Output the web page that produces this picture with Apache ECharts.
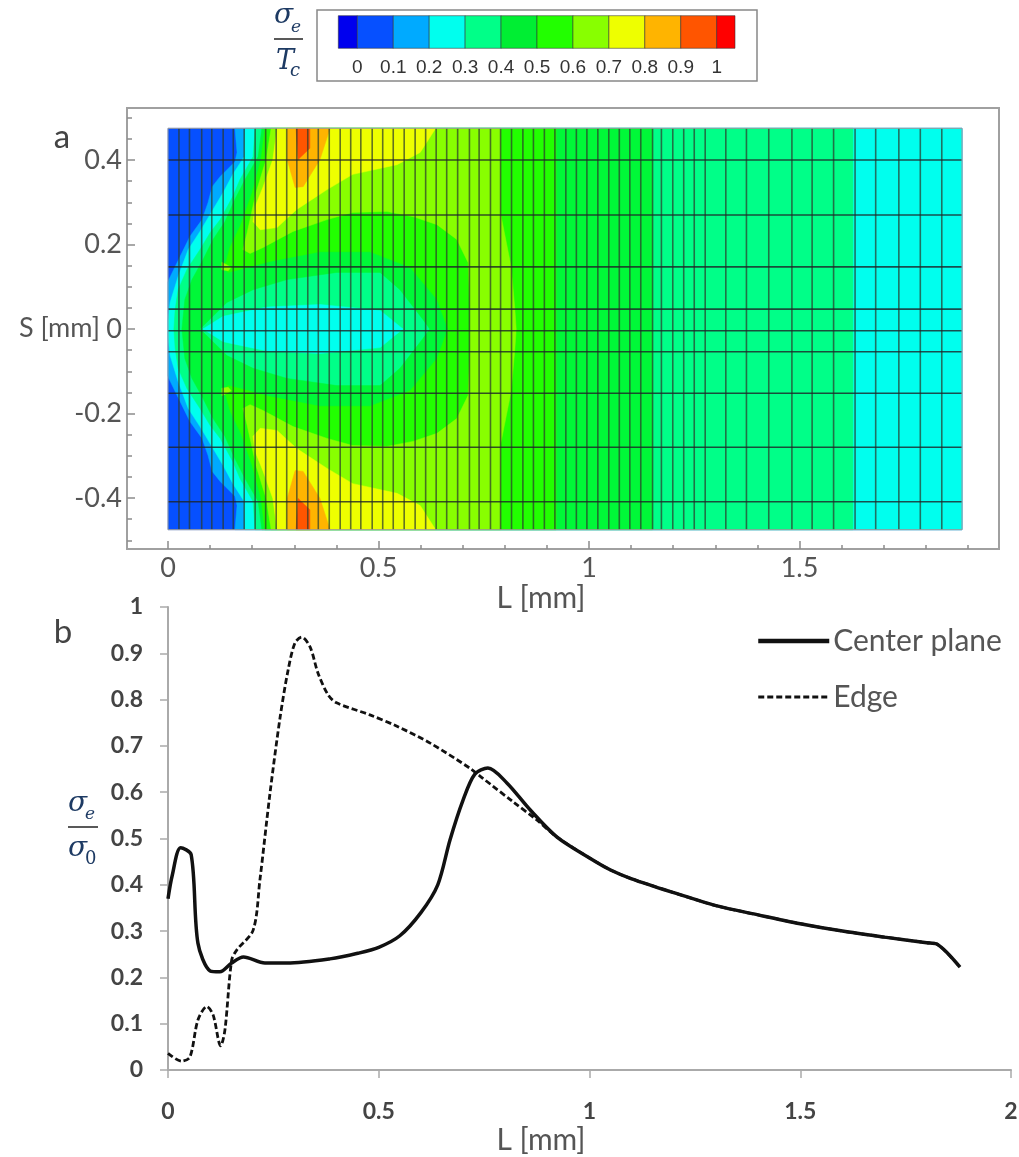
<!DOCTYPE html>
<html><head><meta charset="utf-8">
<style>html,body{margin:0;padding:0;background:#fff}#c{width:1019px;height:1157px}</style>
<script src="https://cdn.jsdelivr.net/npm/echarts@6/dist/echarts.min.js"></script>
</head><body><div id="c"></div>
<script>
// ---- colour scale ----
const scaleLo = [-0.053,0,0.1,0.2,0.3,0.4,0.5,0.6,0.7,0.8,0.9,1];
const scaleHi = [0,0.1,0.2,0.3,0.4,0.5,0.6,0.7,0.8,0.9,1,1.051];
const scaleColors = ['#0000ee','#0650ff','#00aaff','#00ffee','#00ff88','#00ee33','#22ff00','#88ff00','#eeff00','#ffb400','#ff5500','#ff0000'];
const scaleTicks = [0,0.1,0.2,0.3,0.4,0.5,0.6,0.7,0.8,0.9,1];

// ---- panel a: contour bands, upper half as [L, S] (the field is mirrored about S = 0) ----
const bandBase = [[0,0.475],[1.886,0.475],[1.886,0],[0,0]];
const bandB1 = [[.159,.475],[.164,.418],[.159,.396],[.124,.361],[.105,.337],[.095,.299],[.081,.259],[.052,.219],[.029,.172],[.002,.117],[0,.11],[0,0],[1.886,0],[1.886,.475]];
const bandB2 = [[.183,.475],[.181,.408],[.154,.366],[.131,.323],[.107,.283],[.076,.231],[.048,.188],[.024,.124],[.005,.063],[0,.02],[0,0],[1.886,0],[1.886,.475]];
const bandB3 = [[.207,.475],[.202,.408],[.171,.354],[.154,.314],[.124,.259],[.100,.228],[.076,.188],[.045,.141],[.024,.093],[.017,.046],[.014,0],[1.627,0],[1.627,.475]];
const bandCore = [[.083,0],[.131,.030],[.178,.040],[.235,.052],[.361,.058],[.504,.044],[.558,0]];
const bandB4 = [[.223,.475],[.214,.408],[.183,.354],[.159,.307],[.135,.254],[.107,.212],[.083,.164],[.057,.117],[.040,.070],[.033,0],[.076,0],[.140,.063],[.202,.093],[.283,.117],[.401,.134],[.504,.134],[.551,.093],[.606,.022],[.622,0],[1.151,0],[1.151,.475]];
const bandB5 = [[.230,.475],[.221,.401],[.200,.323],[.173,.247],[.147,.193],[.138,.160],[.128,.146],[.143,.134],[.171,.141],[.242,.160],[.361,.183],[.480,.183],[.575,.146],[.639,.070],[.665,0],[.922,0],[.922,.475]];
const bandB6 = [[.245,.475],[.233,.401],[.209,.323],[.188,.228],[.178,.188],[.195,.179],[.226,.193],[.297,.231],[.378,.259],[.439,.276],[.520,.278],[.582,.266],[.639,.247],[.686,.212],[.713,.157],[.717,.046],[.717,0],[.827,0],[.824,.046],[.815,.148],[.790,.273],[.790,.475]];
const bandB7 = [[.259,.475],[.249,.401],[.226,.337],[.207,.290],[.202,.254],[.219,.235],[.259,.240],[.306,.283],[.378,.330],[.439,.366],[.544,.389],[.599,.418],[.634,.472],[.634,.475]];
const bandB8 = [[.283,.475],[.283,.401],[.302,.335],[.321,.337],[.361,.401],[.385,.475]];
const bandB9 = [[.304,.475],[.309,.401],[.337,.428],[.337,.475]];
const bandSpeck = [[.128,.158],[.143,.150],[.150,.146],[.143,.138],[.128,.140]];
const bandList = [bandBase,bandB1,bandB2,bandB3,bandCore,bandB4,bandB5,bandB6,bandB7,bandB8,bandB9,bandSpeck];
const bandColors = ['#0650ff','#00aaff','#00ffee','#00ff88','#00ffee','#00f838','#22ff00','#88ff00','#eeff00','#ffb400','#ff5500','#99ff00'];

// ---- panel a: mesh lines ----
const meshL = [.026,.051,.080,.104,.131,.155,.181,.207,.232,.257,.282,.306,.332,.357,.383,.409,.434,.458,.485,.510,.535,.561,.587,.612,.637,.662,.688,.716,.739,.766,.790,.816,.843,.868,.894,.919,.945,.970,.995,1.021,1.047,1.072,1.097,1.123,1.151,1.172,1.199,1.225,1.250,1.276,1.325,1.374,1.427,1.482,1.530,1.581,1.632,1.681,1.736,1.787,1.838];
const meshS = [.400,.270,.147,.047,-.004,-.054,-.152,-.280,-.409];
const fieldLmax = 1.886, fieldS = 0.475;

// ---- panel a: ticks ----
const aXMajor = [0,0.5,1,1.5];
const aXMinor = [0,.1,.2,.3,.4,.5,.6,.7,.8,.9,1,1.1,1.2,1.3,1.4,1.5,1.6,1.7,1.8,1.9];
const aYMajor = [-0.4,-0.2,0,0.2,0.4];
const aYMinor = [-.5,-.45,-.4,-.35,-.3,-.25,-.2,-.15,-.1,-.05,0,.05,.1,.15,.2,.25,.3,.35,.4,.45,.5];

// ---- panel b: curves ----
const centerPlane = [[0,.37],[.01,.42],[.03,.48],[.055,.465],[.071,.274],[.10,.214],[.123,.212],[.151,.231],[.179,.244],[.23,.231],[.282,.231],[.384,.24],[.45,.252],[.5,.265],[.55,.29],[.6,.34],[.64,.40],[.669,.497],[.70,.583],[.728,.639],[.759,.652],[.804,.62],[.859,.562],[.923,.503],[1.0,.458],[1.05,.432],[1.1,.413],[1.2,.383],[1.3,.355],[1.4,.335],[1.5,.316],[1.6,.30],[1.7,.287],[1.8,.275],[1.824,.272],[1.879,.222]];
const edgeLine = [[0,.036],[.032,.019],[.052,.028],[.071,.108],[.092,.137],[.107,.119],[.125,.052],[.135,.086],[.151,.237],[.163,.259],[.202,.302],[.218,.41],[.242,.598],[.266,.762],[.285,.864],[.301,.922],[.317,.935],[.337,.914],[.356,.857],[.38,.81],[.40,.793],[.479,.767],[.542,.743],[.622,.706],[.716,.652],[.747,.63],[.819,.579],[.875,.54],[.923,.503],[1.0,.458],[1.05,.432],[1.1,.413],[1.2,.383],[1.3,.355],[1.4,.335],[1.5,.316],[1.6,.30],[1.7,.287],[1.8,.275],[1.824,.272],[1.879,.222]];

const sans = 'Lato';
const grey = '#555555';

function bandItem(params, api){
  const pts = bandList[params.dataIndex];
  const fill = bandColors[params.dataIndex];
  const up = pts.map(p=>api.coord(p));
  const down = pts.map(p=>api.coord([p[0],-p[1]]));
  return {type:'group',children:[
    {type:'polygon',shape:{points:up},style:{fill:fill,stroke:fill,lineWidth:0.5}},
    {type:'polygon',shape:{points:down},style:{fill:fill,stroke:fill,lineWidth:0.5}}
  ]};
}
function meshVertical(params, api){
  const x = meshL[params.dataIndex];
  const a = api.coord([x,fieldS]), b = api.coord([x,-fieldS]);
  return {type:'line',shape:{x1:a[0],y1:a[1],x2:b[0],y2:b[1]},style:{stroke:'rgba(45,60,45,0.72)',lineWidth:1.6}};
}
function meshHorizontal(params, api){
  const y = meshS[params.dataIndex];
  const a = api.coord([0,y]), b = api.coord([fieldLmax,y]);
  return {type:'line',shape:{x1:a[0],y1:a[1],x2:b[0],y2:b[1]},style:{stroke:'rgba(30,35,40,0.8)',lineWidth:1.6}};
}
function fieldFrame(params, api){
  const a = api.coord([0,fieldS]), b = api.coord([fieldLmax,-fieldS]);
  return {type:'rect',shape:{x:a[0],y:a[1],width:b[0]-a[0],height:b[1]-a[1]},style:{fill:'none',stroke:'#9a9a9a',lineWidth:1}};
}
function scaleItem(params, api){
  const i = params.dataIndex;
  const a = api.coord([scaleLo[i],1]), b = api.coord([scaleHi[i],0]);
  return {type:'rect',shape:{x:a[0],y:a[1],width:b[0]-a[0],height:b[1]-a[1]},style:{fill:scaleColors[i],stroke:'rgba(50,50,50,0.55)',lineWidth:1}};
}
function mathText(x,y,text,size,italic){
  return {type:'text',x:x,y:y,silent:true,style:{text:text,fill:'#1d3a63',font:(italic?'italic ':'')+size+'px "DejaVu Serif"',textAlign:'left',textVerticalAlign:'middle'}};
}

const chart = echarts.init(document.getElementById('c'),null,{renderer:'canvas'});
chart.setOption({
  animation:false,
  backgroundColor:'#ffffff',
  legend:{left:756,top:626,orient:'vertical',itemWidth:71,itemHeight:20,itemGap:26,padding:0,
    data:[{name:'Center plane',lineStyle:{width:4.5}},{name:'Edge',lineStyle:{width:3}}],selectedMode:false,
    itemStyle:{opacity:0},
    textStyle:{fontFamily:sans,fontSize:30,color:grey,padding:[0,0,0,-1]}},
  grid:[
    {left:127,top:108,width:872,height:441,show:true,borderColor:'#a0a0a0',borderWidth:2,containLabel:false,outerBoundsMode:'none'},
    {left:168,top:607,width:843,height:463,show:false,outerBoundsMode:'none'},
    {left:338.3,top:15.7,width:396.7,height:32.6,show:false,outerBoundsMode:'none'}
  ],
  xAxis:[
    {gridIndex:0,type:'value',min:-0.0974,max:1.9739,position:'bottom',splitLine:{show:false},
      axisLine:{show:false,onZero:false},
      axisTick:{show:true,inside:true,length:8,customValues:aXMajor,lineStyle:{color:'#8c8c8c',width:1.5}},
      axisLabel:{customValues:aXMajor,margin:6,fontFamily:sans,fontSize:27,color:grey},
      name:'L [mm]',nameLocation:'middle',nameGap:21,nameTextStyle:{fontFamily:sans,fontSize:30,color:grey,padding:[0,44,0,0]}},
    {gridIndex:0,type:'value',min:-0.0974,max:1.9739,position:'bottom',splitLine:{show:false},
      axisLine:{show:false,onZero:false},
      axisTick:{show:true,inside:true,length:4,customValues:aXMinor,lineStyle:{color:'#8c8c8c',width:1.5}},
      axisLabel:{show:false}},
    {gridIndex:1,type:'value',min:0,max:2,interval:0.5,position:'bottom',splitLine:{show:false},
      axisLine:{show:true,onZero:false,lineStyle:{color:'#aaaaaa',width:2}},
      axisTick:{show:true,length:8,lineStyle:{color:'#aaaaaa',width:1.5}},
      axisLabel:{margin:30,fontFamily:sans,fontWeight:'bold',fontSize:23,color:'#444',
        formatter:v=>String(v)},
      name:'L [mm]',nameLocation:'middle',nameGap:55,nameTextStyle:{fontFamily:sans,fontSize:30,color:grey,padding:[0,97,0,0]}},
    {gridIndex:2,type:'value',min:-0.053,max:1.051,position:'bottom',splitLine:{show:false},
      axisLine:{show:false,onZero:false},axisTick:{show:false},
      axisLabel:{customValues:scaleTicks,margin:10,fontFamily:'Liberation Sans',fontSize:19,color:'#333'}}
  ],
  yAxis:[
    {gridIndex:0,type:'value',min:-0.5207,max:0.5231,position:'left',splitLine:{show:false},
      axisLine:{show:false,onZero:false},
      axisTick:{show:true,inside:true,length:8,customValues:aYMajor,lineStyle:{color:'#8c8c8c',width:1.5}},
      axisLabel:{customValues:aYMajor,margin:5,fontFamily:sans,fontSize:27,color:grey}},
    {gridIndex:0,type:'value',min:-0.5207,max:0.5231,position:'left',splitLine:{show:false},
      axisLine:{show:false,onZero:false},
      axisTick:{show:true,inside:true,length:5,customValues:aYMinor,lineStyle:{color:'#8c8c8c',width:1.5}},
      axisLabel:{show:false}},
    {gridIndex:1,type:'value',min:0,max:1,interval:0.1,position:'left',splitLine:{show:false},
      axisLine:{show:true,onZero:false,lineStyle:{color:'#aaaaaa',width:2}},
      axisTick:{show:true,length:8,lineStyle:{color:'#aaaaaa',width:1.5}},
      axisLabel:{margin:25,fontFamily:sans,fontWeight:'bold',fontSize:23,color:'#444',
        formatter:v=>String(Math.round(v*10)/10)}},
    {gridIndex:2,type:'value',min:0,max:1,show:false}
  ],
  series:[
    {type:'custom',xAxisIndex:0,yAxisIndex:0,z:1,silent:true,renderItem:bandItem,data:bandList.map((_,i)=>[i])},
    {type:'custom',xAxisIndex:0,yAxisIndex:0,z:2,silent:true,renderItem:meshVertical,data:meshL.map(v=>[v])},
    {type:'custom',xAxisIndex:0,yAxisIndex:0,z:3,silent:true,renderItem:meshHorizontal,data:meshS.map(v=>[v])},
    {type:'custom',xAxisIndex:0,yAxisIndex:0,z:4,silent:true,renderItem:fieldFrame,data:[[0]]},
    {type:'custom',xAxisIndex:3,yAxisIndex:3,z:1,silent:true,renderItem:scaleItem,data:scaleLo.map(v=>[v])},
    {name:'Center plane',type:'line',xAxisIndex:2,yAxisIndex:2,data:centerPlane,symbol:'none',smooth:0.3,z:3,
      itemStyle:{color:'#111'},lineStyle:{color:'#111',width:3.5}},
    {name:'Edge',type:'line',xAxisIndex:2,yAxisIndex:2,data:edgeLine,symbol:'none',smooth:0.3,z:2,
      itemStyle:{color:'#111'},lineStyle:{color:'#111',width:2.8,type:[6,3]}}
  ],
  graphic:{elements:[
    {type:'rect',shape:{x:317,y:10,width:440,height:71},style:{fill:'none',stroke:'#888888',lineWidth:1.5},z:-1,silent:true},
    {type:'text',x:62,y:137,silent:true,style:{text:'a',fill:'#444',font:'33px Lato',textAlign:'center',textVerticalAlign:'middle'}},
    {type:'text',x:63,y:632,silent:true,style:{text:'b',fill:'#444',font:'33px Lato',textAlign:'center',textVerticalAlign:'middle'}},
    {type:'text',x:100,y:328,silent:true,style:{text:'S [mm]',fill:grey,font:'27px Lato',textAlign:'right',textVerticalAlign:'middle'}},
    mathText(274,16,'σ',28,true), mathText(291,28,'e',17,true),
    {type:'line',shape:{x1:274,y1:39,x2:303,y2:39},style:{stroke:'#222',lineWidth:1.5},silent:true},
    mathText(276,62,'T',27,true), mathText(290,71,'c',18,true),
    mathText(68,804,'σ',28,true), mathText(85,815,'e',17,true),
    {type:'line',shape:{x1:68,y1:827,x2:98,y2:827},style:{stroke:'#222',lineWidth:1.5},silent:true},
    mathText(68,849,'σ',28,true), mathText(85,859,'0',18,false)
  ]}
});
</script></body></html>
